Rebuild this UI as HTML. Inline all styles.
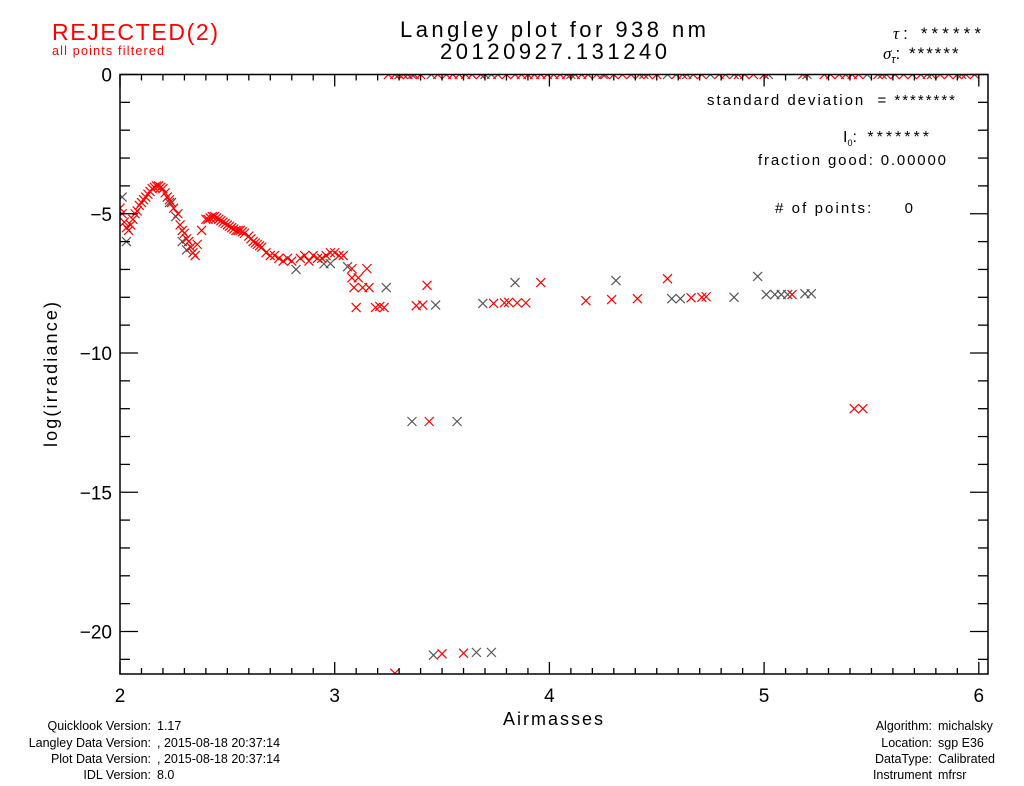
<!DOCTYPE html>
<html><head><meta charset="utf-8">
<style>
body{margin:0;background:#fff;}
svg{display:block;font-family:"Liberation Sans","DejaVu Sans",sans-serif;}
.t{fill:#000;}
</style></head>
<body>
<svg id="chart" width="1024" height="786" viewBox="0 0 1024 786" xmlns="http://www.w3.org/2000/svg">
<defs><clipPath id="pc"><rect x="120" y="74" width="868" height="600"/></clipPath></defs>
<rect width="1024" height="786" fill="#fff"/>
<text x="52" y="40" font-size="23" fill="#f00" textLength="166" lengthAdjust="spacing">REJECTED(2)</text>
<text x="52" y="55" font-size="12.5" fill="#f00" textLength="112" lengthAdjust="spacing">all points filtered</text>
<text x="400" y="37" font-size="22" class="t" textLength="306" lengthAdjust="spacing">Langley plot for 938 nm</text>
<text x="440" y="59" font-size="22" class="t" textLength="227" lengthAdjust="spacing">20120927.131240</text>
<text x="893" y="39" font-size="17" class="t" textLength="88" lengthAdjust="spacing"><tspan font-style="italic" font-family="Liberation Serif">τ</tspan>: ******</text>
<text x="883" y="59" font-size="17" class="t"><tspan font-style="italic" font-family="Liberation Serif">σ</tspan><tspan font-size="11" dy="4" font-style="italic">τ</tspan><tspan dy="-4" letter-spacing="2">: ******</tspan></text>
<g id="plot">
<g id="marks" clip-path="url(#pc)"></g>
<rect x="120" y="74.5" width="868" height="599.5" fill="none" stroke="#000" stroke-width="1.5"/>
<g id="ticks"></g>
</g>
<text x="707" y="105" font-size="15" class="t" textLength="248" lengthAdjust="spacing">standard deviation&#160; = ********</text>
<text x="843" y="142" font-size="16" class="t">I<tspan font-size="9" dy="4">0</tspan><tspan dy="-4" letter-spacing="3">: *******</tspan></text>
<text x="758" y="165" font-size="15" class="t" textLength="188" lengthAdjust="spacing">fraction good: 0.00000</text>
<text x="775" y="213" font-size="15" class="t" textLength="138" lengthAdjust="spacing"># of points:&#160;&#160;&#160;&#160; 0</text>
<text x="503" y="725" font-size="18" class="t" textLength="100" lengthAdjust="spacing">Airmasses</text>
<text transform="translate(57,447) rotate(-90)" font-size="18" class="t" textLength="145" lengthAdjust="spacing">log(irradiance)</text>
<g font-size="12.5" class="t">
<text x="151" y="730" text-anchor="end">Quicklook Version:</text><text x="157" y="730">1.17</text>
<text x="151" y="747" text-anchor="end">Langley Data Version:</text><text x="157" y="747">, 2015-08-18 20:37:14</text>
<text x="151" y="763" text-anchor="end">Plot Data Version:</text><text x="157" y="763">, 2015-08-18 20:37:14</text>
<text x="151" y="779" text-anchor="end">IDL Version:</text><text x="157" y="779">8.0</text>
</g>
<g font-size="12.5" class="t">
<text x="932" y="730" text-anchor="end">Algorithm:</text><text x="938" y="730">michalsky</text>
<text x="932" y="747" text-anchor="end">Location:</text><text x="938" y="747">sgp E36</text>
<text x="932" y="763" text-anchor="end">DataType:</text><text x="938" y="763">Calibrated</text>
<text x="932" y="779" text-anchor="end">Instrument</text><text x="938" y="779">mfrsr</text>
</g>
</svg>
<script>
const xTicks=[2,3,4,5,6];
const yTicks=[0,-5,-10,-15,-20];
const redX=[2.00,2.01,2.02,2.03,2.04,2.05,2.06,2.07,2.08,2.09,2.10,2.11,2.12,2.13,2.14,2.15,2.16,2.17,2.18,2.19,2.20,2.21,2.22,2.23,2.24,2.25,2.27,2.28,2.29,2.30,2.31,2.32,2.33,2.34,2.35,2.36,2.38,2.40,2.41,2.42,2.43,2.44,2.45,2.46,2.47,2.48,2.49,2.50,2.51,2.52,2.53,2.54,2.55,2.56,2.57,2.58,2.60,2.61,2.62,2.63,2.64,2.65,2.66,2.68,2.70,2.72,2.74,2.76,2.78,2.80,2.84,2.86,2.88,2.90,2.92,2.94,2.96,2.98,3.00,3.02,3.04,3.08,3.15,3.08,3.11,3.09,3.13,3.16,3.43,3.10,3.19,3.21,3.23,3.38,3.41,3.74,3.79,3.81,3.85,3.89,3.96,4.17,4.29,4.41,4.55,4.66,4.71,4.73,5.13,3.44,5.42,5.46,3.50,3.60,3.28];
const redY=[-4.8,-5.0,-5.3,-5.5,-5.6,-5.4,-5.2,-5.0,-4.9,-4.7,-4.6,-4.5,-4.4,-4.3,-4.2,-4.1,-4.05,-4.0,-4.0,-4.05,-4.1,-4.25,-4.4,-4.5,-4.6,-4.8,-5.0,-5.4,-5.6,-5.7,-5.9,-6.0,-6.2,-6.4,-6.5,-6.1,-5.6,-5.2,-5.2,-5.15,-5.1,-5.1,-5.15,-5.2,-5.25,-5.3,-5.35,-5.4,-5.45,-5.5,-5.55,-5.6,-5.6,-5.6,-5.65,-5.7,-5.8,-5.9,-6.0,-6.05,-6.1,-6.15,-6.2,-6.4,-6.5,-6.5,-6.6,-6.7,-6.6,-6.7,-6.6,-6.5,-6.7,-6.5,-6.6,-6.6,-6.5,-6.4,-6.4,-6.5,-6.5,-6.97,-6.97,-7.3,-7.3,-7.65,-7.65,-7.65,-7.57,-8.37,-8.37,-8.33,-8.37,-8.3,-8.28,-8.22,-8.2,-8.18,-8.2,-8.2,-7.47,-8.12,-8.08,-8.05,-7.33,-8.02,-8.0,-7.98,-7.9,-12.46,-12.0,-12.0,-20.8,-20.78,-21.5];
const grayX=[2.01,2.03,2.23,2.26,2.29,2.31,2.82,2.95,2.98,3.06,3.24,3.47,3.69,3.84,4.31,4.57,4.61,4.86,4.97,5.01,5.05,5.08,5.11,5.19,5.22,3.36,3.57,3.46,3.66,3.73];
const grayY=[-4.4,-6.0,-4.6,-5.1,-6.0,-6.3,-7.0,-6.8,-6.79,-6.9,-7.65,-8.28,-8.22,-7.47,-7.4,-8.05,-8.05,-8.0,-7.25,-7.9,-7.9,-7.9,-7.9,-7.87,-7.87,-12.46,-12.46,-20.85,-20.75,-20.75];
const topRedX=[3.25,3.28,3.30,3.32,3.34,3.37,3.40,3.48,3.52,3.55,3.58,3.61,3.64,3.68,3.76,3.80,3.84,3.87,3.90,3.93,3.96,3.99,4.02,4.05,4.08,4.12,4.15,4.18,4.22,4.26,4.30,4.34,4.38,4.42,4.46,4.50,4.59,4.62,4.67,4.71,4.79,4.82,4.88,4.91,4.95,5.00,5.18,5.28,5.31,5.35,5.38,5.41,5.44,5.53,5.57,5.61,5.65,5.69,5.73,5.78,5.82,5.86,5.90,5.94,5.98];
const topGrayX=[3.36,3.45,3.70,3.73,4.10,4.25,4.44,4.55,4.64,4.75,4.86,5.02,5.20,5.48,5.55,5.76,5.92];
const topRedY=topRedX.map(()=>0);
const topGrayY=topGrayX.map(()=>0);
const NS='http://www.w3.org/2000/svg';
function sx(v){return 120+(v-2)*214.7;}
function sy(v){return 74.5-v*27.85;}
const marks=document.getElementById('marks');
const ticks=document.getElementById('ticks');
function cross(x,y,col){
  const p=document.createElementNS(NS,'path');
  const cx=sx(x),cy=sy(y),r=4.5;
  p.setAttribute('d',`M${cx-r},${cy-r}L${cx+r},${cy+r}M${cx-r},${cy+r}L${cx+r},${cy-r}`);
  p.setAttribute('stroke',col);p.setAttribute('stroke-width','1.2');p.setAttribute('fill','none');
  
  
  marks.appendChild(p);
}
grayX.forEach((x,i)=>cross(x,grayY[i],'#555'));
topGrayX.forEach((x,i)=>cross(x,topGrayY[i],'#555'));
redX.forEach((x,i)=>cross(x,redY[i],'#f00'));
topRedX.forEach((x,i)=>cross(x,topRedY[i],'#f00'));
function line(x1,y1,x2,y2,name){
  const l=document.createElementNS(NS,'line');
  l.setAttribute('x1',x1);l.setAttribute('y1',y1);l.setAttribute('x2',x2);l.setAttribute('y2',y2);
  l.setAttribute('stroke','#000');l.setAttribute('stroke-width','1.3');
  
  
  ticks.appendChild(l);
}
function txt(x,y,s,anchor,name){
  const t=document.createElementNS(NS,'text');
  t.setAttribute('x',x);t.setAttribute('y',y);t.setAttribute('font-size','19');t.setAttribute('text-anchor',anchor);
  t.textContent=s;
  
  
  ticks.appendChild(t);
}
for(let k=0;k<=40;k++){
  const v=2+k*0.1;const X=sx(v);if(X>988)break;
  const major=k%10===0;const len=major?12:6;
  line(X,674,X,674-len,'x-tick');line(X,74.5,X,74.5+len,'x-tick');
}
xTicks.forEach(v=>txt(sx(v),702,String(v),'middle','x-tick-label'));
for(let v=0;v>=-21;v--){
  const Y=sy(v);const major=v%5===0;const len=major?18:10;
  line(120,Y,120+len,Y,'y-tick');line(988,Y,988-len,Y,'y-tick');
}
yTicks.forEach(v=>txt(112,sy(v)+7,v<0?'\u2212'+Math.abs(v):String(v),'end','y-tick-label'));
</script>
</body></html>
